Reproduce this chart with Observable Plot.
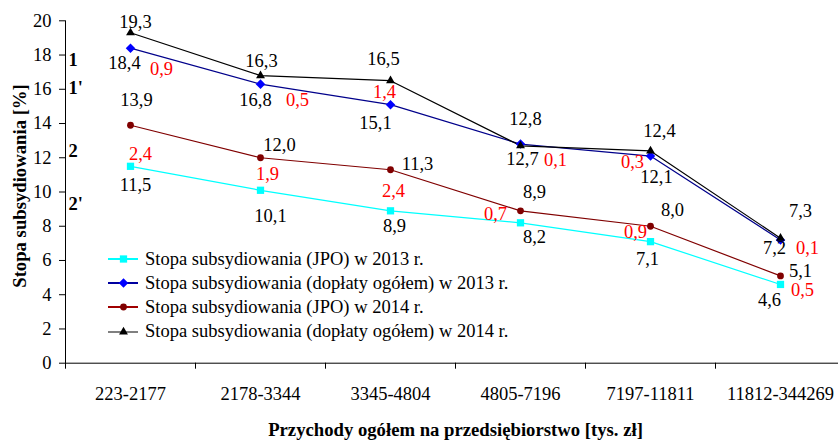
<!DOCTYPE html>
<html><head><meta charset="utf-8">
<script src="https://cdn.jsdelivr.net/npm/d3@7"></script>
<script src="https://cdn.jsdelivr.net/npm/@observablehq/plot@0.6"></script>
<style>
html,body{margin:0;padding:0;background:#fff;overflow:hidden}
#wrap{position:relative;width:838px;height:441px;overflow:hidden;font-family:"Liberation Serif","Times New Roman",serif;color:#000}
#chart svg, #chart svg text{font-family:"Liberation Serif","Times New Roman",serif !important}
#legend{position:absolute;left:108px;top:247px;font-size:18.5px;line-height:1}
#legend .row{display:flex;align-items:center;height:24.2px;white-space:nowrap}
#legend svg{display:block;margin-right:7px}
</style></head><body>
<div id="wrap"><div id="chart"></div><div id="legend"></div></div>
<script>
// ---- data ----
const categories = ["223-2177","2178-3344","3345-4804","4805-7196","7197-11811","11812-344269"];
const jpo2013   = [11.5, 10.1, 8.9, 8.2, 7.1, 4.6];
const total2013 = [18.4, 16.3, 15.1, 12.8, 12.1, 7.2];
const jpo2014   = [13.9, 12.0, 11.3, 8.9, 8.0, 5.1];
const total2014 = [19.3, 16.8, 16.5, 12.7, 12.4, 7.3];
const jpo2013Labels   = ["11,5","10,1","8,9","8,2","7,1","4,6"];
const total2013Labels = ["18,4","16,8","15,1","12,7","12,1","7,2"];
const jpo2014Labels   = ["13,9","12,0","11,3","8,9","8,0","5,1"];
const total2014Labels = ["19,3","16,3","16,5","12,8","12,4","7,3"];
const jpoDiffLabels   = ["2,4","1,9","2,4","0,7","0,9","0,5"];
const totalDiffLabels = ["0,9","0,5","1,4","0,1","0,3","0,1"];
const yTicks = [0,2,4,6,8,10,12,14,16,18,20];
const seriesNames = [
  "Stopa subsydiowania (JPO) w 2013 r.",
  "Stopa subsydiowania (dopłaty ogółem) w 2013 r.",
  "Stopa subsydiowania (JPO) w 2014 r.",
  "Stopa subsydiowania (dopłaty ogółem) w 2014 r."
];
const groupTags = ["1","1'","2","2'"];
const groupTagLevels = [17.7, 16.05, 12.4, 9.3];
const xTitle = "Przychody ogółem na przedsiębiorstwo [tys. zł]";
const yTitle = "Stopa subsydiowania [%]";

// ---- layout (label offsets in px, relative to the point) ----
const offTotal2014 = [[5,-11],[1,-15],[-7,-22],[5,-27],[9,-20],[20,-27]];
const offTotal2013 = [[-6,15],[-5,16],[-15,18.5],[2,15],[6,21],[-6,8]];
const offTotalDiff = [[31,21],[37,16],[-6,-13],[35,16],[-18,6],[27,8]];
const offJpo2014   = [[6,-25],[19,-13],[27,-6],[14,-19],[22,-16],[20,-5]];
const offJpo2013   = [[5,19],[10,26],[4,15],[14,14],[-3,17],[-11,16]];
const offJpoDiff   = [[10,-12.5],[7,-16.5],[3,-19.6],[-25,-9],[-15,-9.4],[22,6]];

const FONT = "Liberation Serif, Times New Roman, serif";
const diamondSym = d3.symbolDiamond2 || "diamond";
const styles = [
  {line:"#00ffff", fill:"#00ffff", symbol:"square", r:4.1, legendLine:"#00ffff"},
  {line:"#00008b", fill:"#0000ff", symbol:diamondSym, r:4.3, legendLine:"#0000a0"},
  {line:"#800000", fill:"#800000", symbol:"circle", r:3.4, legendLine:"#a00000"},
  {line:"#000000", fill:"#000000", symbol:"triangle", r:3.3, legendLine:"#808080"}
];
const series = [jpo2013, total2013, jpo2014, total2014];

const idx = (d, i) => i;
const val = d => d;

function labelMarks(values, labels, offsets, color) {
  return labels.map((t, i) => Plot.text([i], {
    x: d => d, y: d => values[d], text: d => labels[d],
    dx: offsets[i][0], dy: offsets[i][1],
    fill: color, textAnchor: "middle", lineAnchor: "middle", fontSize: 18.5, fontFamily: FONT
  }));
}

const boundaries = categories.map((_, i) => i - 0.5).concat([categories.length - 0.5]);

const marks = [];
series.forEach((s, k) => {
  marks.push(Plot.line(s, {x: idx, y: val, stroke: styles[k].line, strokeWidth: 1.2}));
});
series.forEach((s, k) => {
  marks.push(Plot.dot(s, {x: idx, y: val, symbol: styles[k].symbol, r: styles[k].r, fill: styles[k].fill, stroke: "none"}));
});
marks.push(
  ...labelMarks(total2014, total2014Labels, offTotal2014, "#000"),
  ...labelMarks(total2013, total2013Labels, offTotal2013, "#000"),
  ...labelMarks(total2013, totalDiffLabels, offTotalDiff, "#ff0000"),
  ...labelMarks(jpo2014, jpo2014Labels, offJpo2014, "#000"),
  ...labelMarks(jpo2013, jpo2013Labels, offJpo2013, "#000"),
  ...labelMarks(jpo2013, jpoDiffLabels, offJpoDiff, "#ff0000"),
  Plot.text(categories, {x: idx, y: () => 0, text: d => d, dy: 30.5, textAnchor: "middle", lineAnchor: "middle", fontSize: 18.5, fontFamily: FONT}),
  Plot.text(groupTags, {y: (d, i) => groupTagLevels[i], text: d => d, frameAnchor: "left", dx: 3, textAnchor: "start", lineAnchor: "middle", fontWeight: "bold", fontSize: 18.5, fontFamily: FONT}),
  Plot.text([xTitle], {frameAnchor: "bottom", text: d => d, dy: 67, textAnchor: "middle", lineAnchor: "middle", fontWeight: "bold", fontSize: 18.7, fontFamily: FONT}),
  Plot.text([yTitle], {frameAnchor: "left", text: d => d, rotate: -90, dx: -45, dy: -6, textAnchor: "middle", lineAnchor: "middle", fontWeight: "bold", fontSize: 18.7, fontFamily: FONT})
);

const chart = Plot.plot({
  width: 845, height: 441,
  marginLeft: 65, marginRight: 0, marginTop: 20.3, marginBottom: 78.3,
  style: {fontFamily: FONT, fontSize: "18.5px", color: "#000", background: "#fff", overflow: "visible", maxWidth: "none"},
  x: {domain: [-0.5, categories.length - 0.5], ticks: boundaries, tickFormat: () => "", tickSize: 6, line: true, label: null},
  y: {domain: [0, 20], ticks: yTicks, tickSize: 6, tickPadding: 8, line: true, label: null},
  marks
});
d3.select(chart).selectAll("g, text").attr("font-family", FONT);
document.getElementById("chart").appendChild(chart);

// ---- legend ----
const legend = d3.select("#legend");
seriesNames.forEach((name, k) => {
  const row = legend.append("div").attr("class", "row");
  const svg = row.append("svg").attr("width", 30).attr("height", 14);
  svg.append("line").attr("x1", 0).attr("x2", 30).attr("y1", 7).attr("y2", 7)
    .attr("stroke", styles[k].legendLine).attr("stroke-width", 2);
  const symMap = {square: d3.symbolSquare, circle: d3.symbolCircle, triangle: d3.symbolTriangle, diamond: d3.symbolDiamond};
  const sym = typeof styles[k].symbol === "string" ? symMap[styles[k].symbol] : styles[k].symbol;
  svg.append("path").attr("transform", "translate(15.5,7)")
    .attr("d", d3.symbol(sym, Math.PI * styles[k].r * styles[k].r)())
    .attr("fill", styles[k].fill);
  row.append("span").text(name);
});
</script>
</body></html>
